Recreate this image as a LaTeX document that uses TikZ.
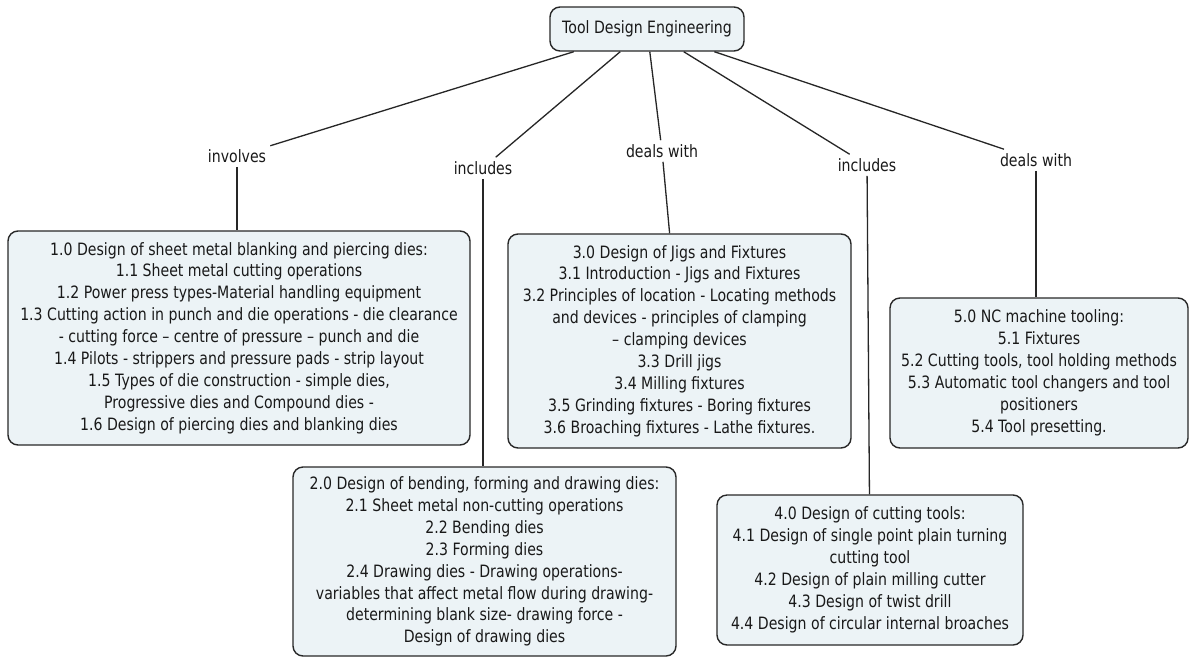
\documentclass[tikz,border=0pt]{standalone}
\usepackage{fontspec}
\setmainfont{DejaVu Sans}[FakeStretch=0.83]
\definecolor{boxfill}{RGB}{236,243,246}
\definecolor{boxline}{RGB}{40,40,40}
\definecolor{ink}{RGB}{25,25,25}
\begin{document}
\begin{tikzpicture}[x=1pt,y=-1pt,
  topic/.style={draw=boxline, line width=1.4pt, fill=boxfill, rounded corners=10pt,
    align=center, text=ink, inner sep=0pt, font=\fontsize{17}{21.9}\selectfont},
  linklabel/.style={text=ink, inner sep=4pt, font=\fontsize{17}{19}\selectfont},
  link/.style={draw=black!85, line width=1.3pt}]
\useasboundingbox (0,0) rectangle (1190,659);
\fill[white] (0,0) rectangle (1190,659);

% root concept
\node[topic, minimum width=194pt, minimum height=44pt] (root) at (647,29) {Tool Design Engineering};

% linking phrases
\node[linklabel] (inv)  at (237,156)  {involves};
\node[linklabel] (inc1) at (483,168)  {includes};
\node[linklabel] (dw1)  at (662,151)  {deals with};
\node[linklabel] (inc2) at (867,165)  {includes};
\node[linklabel] (dw2)  at (1036,160) {deals with};

% topic boxes
\node[topic, minimum width=462pt, minimum height=214pt] (box1) at (239,338) {%
1.0 Design of sheet metal blanking and piercing dies:\\
1.1 Sheet metal cutting operations\\
1.2 Power press types-Material handling equipment\\
1.3 Cutting action in punch and die operations - die clearance\\
- cutting force – centre of pressure – punch and die\\
1.4 Pilots - strippers and pressure pads - strip layout\\
1.5 Types of die construction - simple dies,\\
Progressive dies and Compound dies -\\
1.6 Design of piercing dies and blanking dies};

\node[topic, minimum width=383pt, minimum height=189pt] (box2) at (484.5,561.5) {%
2.0 Design of bending, forming and drawing dies:\\
2.1 Sheet metal non-cutting operations\\
2.2 Bending dies\\
2.3 Forming dies\\
2.4 Drawing dies - Drawing operations-\\
variables that affect metal flow during drawing-\\
determining blank size- drawing force -\\
Design of drawing dies};

\node[topic, minimum width=343pt, minimum height=214pt] (box3) at (679.5,341) {%
3.0 Design of Jigs and Fixtures\\
3.1 Introduction - Jigs and Fixtures\\
3.2 Principles of location - Locating methods\\
and devices - principles of clamping\\
– clamping devices\\
3.3 Drill jigs\\
3.4 Milling fixtures\\
3.5 Grinding fixtures - Boring fixtures\\
3.6 Broaching fixtures - Lathe fixtures.};

\node[topic, minimum width=306pt, minimum height=150pt] (box4) at (870,570) {%
4.0 Design of cutting tools:\\
4.1 Design of single point plain turning\\
cutting tool\\
4.2 Design of plain milling cutter\\
4.3 Design of twist drill\\
4.4 Design of circular internal broaches};

\node[topic, minimum width=298pt, minimum height=150pt] (box5) at (1039,373) {%
5.0 NC machine tooling:\\
5.1 Fixtures\\
5.2 Cutting tools, tool holding methods\\
5.3 Automatic tool changers and tool\\
positioners\\
5.4 Tool presetting.};

% connectors: root to linking phrases
\draw[link] (root) -- (inv);
\draw[link] (root) -- (inc1);
\draw[link] (root) -- (dw1);
\draw[link] (root) -- (inc2);
\draw[link] (root) -- (dw2);

% connectors: linking phrases to topics
\draw[link] (inv)  -- (inv |- box1.north);
\draw[link] (inc1) -- (inc1 |- box2.north);
\draw[link] (dw1)  -- (box3);
\draw[link] (inc2) -- (box4);
\draw[link] (dw2)  -- (dw2 |- box5.north);
\end{tikzpicture}
\end{document}
